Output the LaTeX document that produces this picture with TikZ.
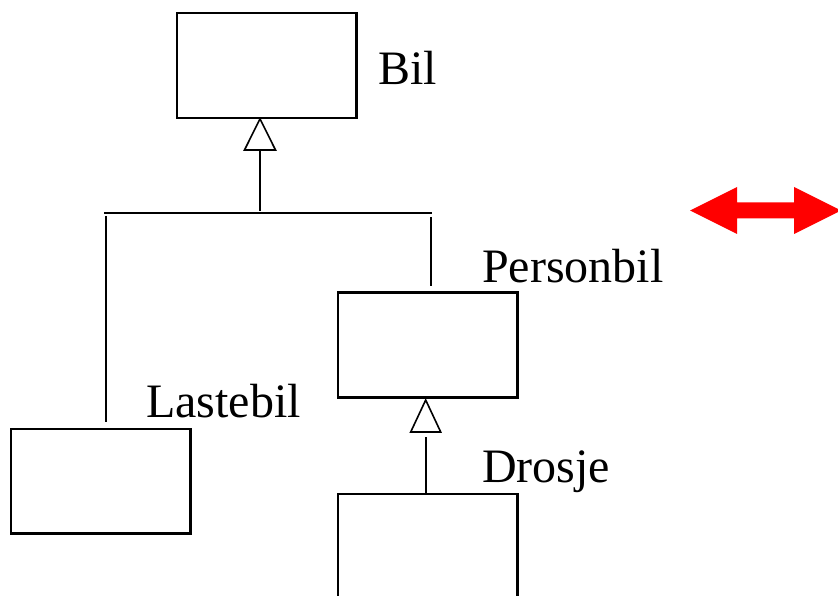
\documentclass[tikz,border=0pt]{standalone}
\usepackage{fontspec}
\setmainfont{Liberation Serif}
\begin{document}
\begin{tikzpicture}[x=1pt,y=-1pt,
  classbox/.style={draw=black, line width=2.2pt, rectangle, inner sep=0pt, minimum width=179.5pt},
  lbl/.style={anchor=base west, inner sep=0pt, font=\fontsize{48}{57}\selectfont},
  conn/.style={draw=black, line width=1.6pt},
  gentri/.style={draw=black, line width=1.6pt, fill=white, line join=miter}]
\useasboundingbox (0,0) rectangle (838,596);
\fill[white] (0,0) rectangle (838,596);
% boxes
\node[classbox, minimum height=104.5pt] (bil) at (266.8,65.5) {};
\node[classbox, minimum height=105pt] (personbil) at (427.8,345) {};
\node[classbox, minimum height=104.5pt] (lastebil) at (100.7,481.3) {};
\node[classbox, minimum height=160pt, anchor=north] (drosje) at (427.8,493) {};
% labels
\node[lbl] (tbil) at (378,85) {Bil};
\node[lbl] (tpersonbil) at (482,282) {Personbil};
\node[lbl] (tlastebil) at (146,417) {Lastebil};
\node[lbl] (tdrosje) at (482,482) {Drosje};
% tree connector Bil
\coordinate (j1) at (260,211);
\coordinate (hl) at (104,213);
\coordinate (hr) at (432,213);
\coordinate (lv) at (106,216);
\coordinate (rv) at (431,217);
\path[conn] (j1) -- (260,150);
\path[gentri] (j1 |- bil.south) -- (244.5,150) -- (275.5,150) -- cycle;
\path[conn] (hl) -- (hr);
\path[conn] (lv) -- (lv |- 0,422) coordinate (lvend);
\path[conn] (rv) -- (rv |- 0,286) coordinate (rvend);
% Personbil - Drosje
\coordinate (j2) at (426,437);
\path[conn] (j2 |- drosje.north) -- (j2);
\path[gentri] (425.7,400) -- (410.7,432) -- (440.7,432) -- cycle;
% red double arrow
\fill[red] (690,210.5) -- (737,187) -- (737,202.5) -- (794,202.5) -- (794,187) -- (841,210.5)
  -- (794,234) -- (794,218.5) -- (737,218.5) -- (737,234) -- cycle;
\end{tikzpicture}
\end{document}
